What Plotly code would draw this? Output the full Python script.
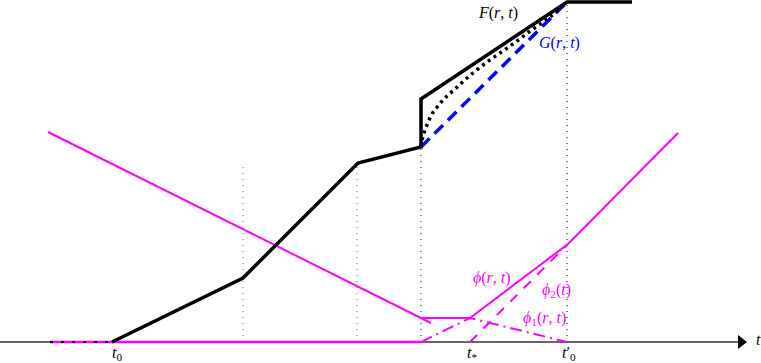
import plotly.graph_objects as go

# time axis (pixel-like units) and heights above the t axis
F_t = [112, 243, 358, 421, 421, 567, 632]
F_y = [0, 64, 179, 195, 243, 340, 340]

dotted_t = [421, 423, 427, 432, 438, 445, 455, 467, 483, 500, 517, 533, 550, 565]
dotted_y = [195, 206, 217, 228, 236, 244, 253, 264, 277, 289, 301, 313, 325, 339]

G_t = [421, 567]
G_y = [195, 340]

phi_left_t = [48, 431]
phi_left_y = [210, 19]
phi_t = [421, 470, 568, 678]
phi_y = [24, 24, 98, 209]

phi1_t = [421, 470, 567]
phi1_y = [0, 24, 0]

phi2_t = [470, 567]
phi2_y = [0, 97]

zero_t = [50, 421]
early_t = [50, 112]

guides_t = [243, 357, 421, 567]
guides_top = [179, 179, 195, 342]
guides_col = ["#777777", "#777777", "#0000ff", "#000000"]

MAG = "#ff00ff"
FONT = "Liberation Serif"

fig = go.Figure()

# t axis with arrow
fig.add_trace(go.Scatter(x=[0, 742], y=[0, 0], mode="lines",
                         line=dict(color="#333333", width=1.5)))
fig.add_trace(go.Scatter(x=[741], y=[0], mode="markers",
                         marker=dict(symbol="triangle-right", size=12, color="#000000")))

# vertical dotted guides
for t, top, c in zip(guides_t, guides_top, guides_col):
    fig.add_trace(go.Scatter(x=[t, t], y=[0, top], mode="lines",
                             line=dict(color=c, width=1, dash="1px,5px")))

# magenta curves
fig.add_trace(go.Scatter(x=zero_t, y=[0, 0], mode="lines",
                         line=dict(color=MAG, width=2.5)))
fig.add_trace(go.Scatter(x=early_t, y=[0, 0], mode="lines",
                         line=dict(color="#000000", width=2, dash="3px,8px")))
fig.add_trace(go.Scatter(x=phi1_t, y=phi1_y, mode="lines",
                         line=dict(color=MAG, width=2, dash="12px,5px,2px,5px")))
fig.add_trace(go.Scatter(x=phi2_t, y=phi2_y, mode="lines",
                         line=dict(color=MAG, width=2, dash="10px,9px")))
fig.add_trace(go.Scatter(x=phi_left_t, y=phi_left_y, mode="lines",
                         line=dict(color=MAG, width=2)))
fig.add_trace(go.Scatter(x=phi_t, y=phi_y, mode="lines",
                         line=dict(color=MAG, width=2)))

# F, G and the dotted curve
fig.add_trace(go.Scatter(x=G_t, y=G_y, mode="lines",
                         line=dict(color="#0000ff", width=3.5, dash="12px,7px")))
fig.add_trace(go.Scatter(x=dotted_t, y=dotted_y, mode="lines", line_shape="spline",
                         line=dict(color="#000000", width=3.5, dash="3px,4px")))
fig.add_trace(go.Scatter(x=F_t, y=F_y, mode="lines",
                         line=dict(color="#000000", width=3.5)))

labels = [
    ("<i>F</i>(<i>r</i>, <i>t</i>)", 498, 329, "#000000"),
    ("<i>G</i>(<i>r</i>, <i>t</i>)", 559, 299, "#0000ff"),
    ("<i>ϕ</i>(<i>r</i>, <i>t</i>)", 492, 64, MAG),
    ("<i>ϕ</i><sub>2</sub>(<i>t</i>)", 556, 52, MAG),
    ("<i>ϕ</i><sub>1</sub>(<i>r</i>, <i>t</i>)", 544, 24, MAG),
    ("<i>t</i><sub>0</sub>", 117, -11, "#000000"),
    ("<i>t</i><sub>*</sub>", 472, -11, "#000000"),
    ("<i>t</i>′<sub>0</sub>", 569, -11, "#000000"),
    ("<i>t</i>", 758, 3, "#000000"),
]
for txt, x, y, c in labels:
    fig.add_annotation(x=x, y=y, text=txt, showarrow=False,
                       font=dict(family=FONT, size=16, color=c))

fig.update_layout(
    width=761, height=363,
    margin=dict(l=0, r=0, t=0, b=0),
    paper_bgcolor="white", plot_bgcolor="white",
    showlegend=False,
    xaxis=dict(range=[0, 761], visible=False),
    yaxis=dict(range=[-21, 342], visible=False),
)

fig.write_html("out.html", config={"displayModeBar": False},
               post_script="document.body.style.margin='0';")
